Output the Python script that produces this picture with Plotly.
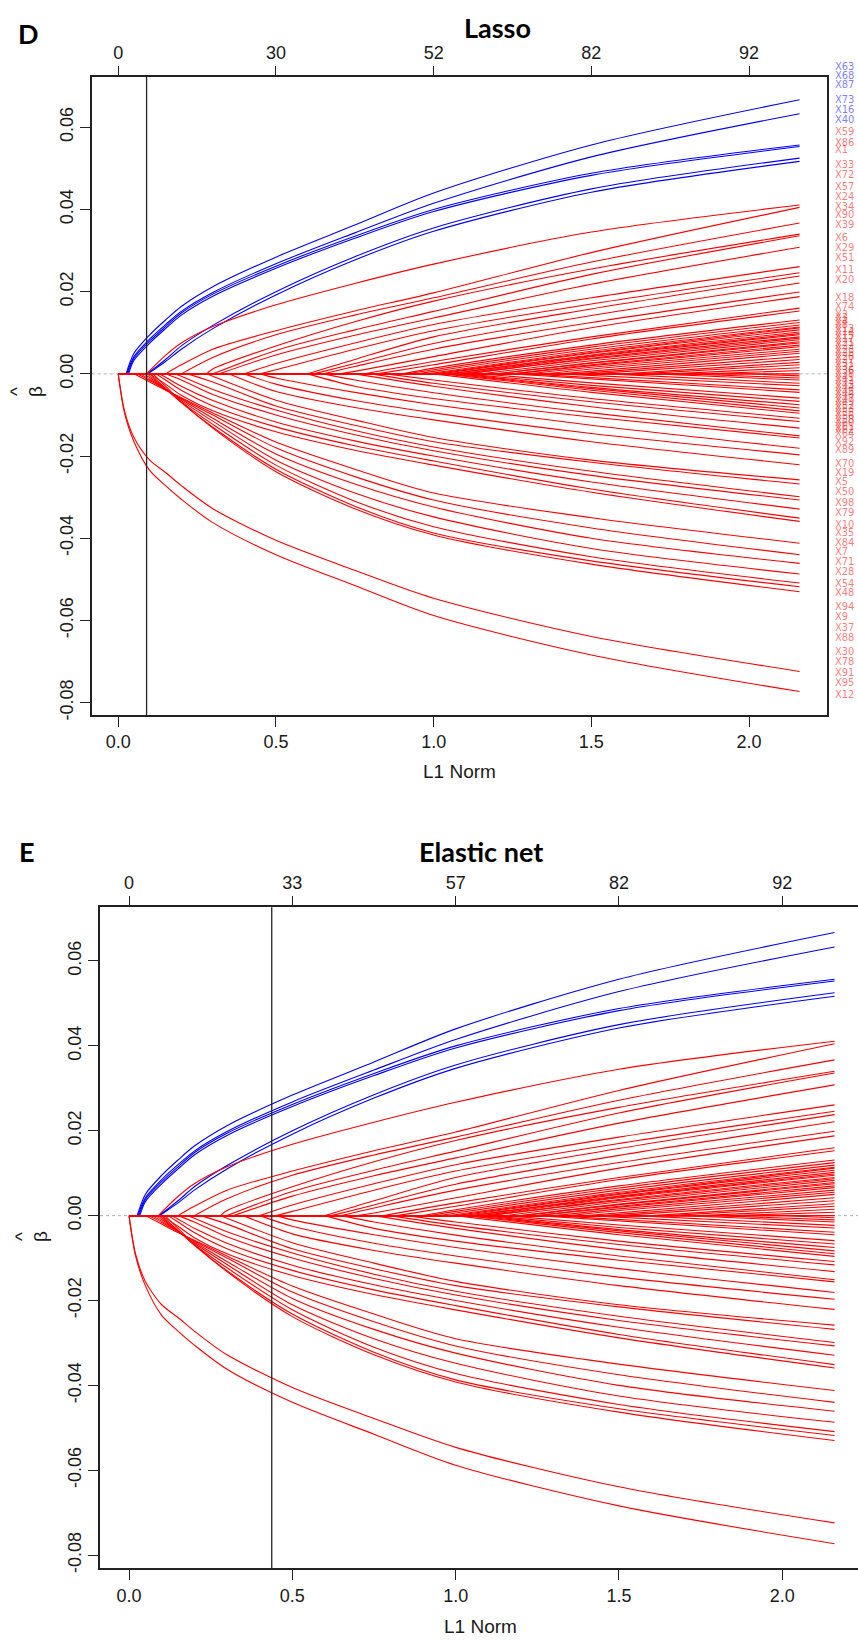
import plotly.graph_objects as go

# ---------------- data ----------------
KNOTS = [0.02, 0.05, 0.10, 0.15, 0.20, 0.30, 0.50, 0.75, 1.00, 1.50, 2.16]

VAR_NAMES = [
    "X63", "X68", "X87", "X73", "X16", "X40",
    "X59", "X86", "X1", "X33", "X72", "X57", "X24", "X34", "X90", "X39", "X6", "X29",
    "X51", "X11", "X20", "X18", "X74",
    "X2", "X3", "X4", "X8", "X13", "X14", "X15", "X17", "X21", "X22", "X23", "X25",
    "X26", "X27", "X31", "X32", "X36", "X38", "X41", "X42", "X43", "X44",
    "X45", "X46", "X47", "X49", "X52", "X53", "X55", "X56", "X58", "X60", "X61", "X62", "X64",
    "X92", "X89", "X70", "X19", "X5", "X50", "X98", "X79", "X10",
    "X35", "X84", "X7", "X71", "X28", "X54", "X48",
    "X94", "X9", "X37", "X88", "X30", "X78", "X91", "X95", "X12",
]

VAR_GROUP = ["blue"] * 6 + ["red"] * 77

ENTRY_L1 = [
    0.025, 0.027, 0.030, 0.033, 0.090, 0.095,
    0.09, 0.15, 0.20, 0.28, 0.30, 0.32, 0.40, 0.45, 0.60, 0.62, 0.65, 0.70,
    0.78, 0.82, 0.90, 0.92, 0.95,
    0.98, 1.00, 1.02, 1.05, 1.05, 1.08, 1.10, 1.10, 1.15, 1.20, 1.20, 1.25,
    1.25, 1.30, 1.35, 1.40, 1.45, 1.50, 1.60, 1.65, 1.75, 1.85,
    1.95, 2.00, 1.80, 1.70, 1.55, 1.40, 1.30, 1.25, 1.15, 1.10, 1.08, 1.05, 1.03,
    1.00, 0.85, 0.80, 0.75, 0.65, 0.60, 0.45, 0.40, 0.35,
    0.28, 0.22, 0.18, 0.15, 0.13, 0.12, 0.10,
    0.05, 0.06, 0.07, 0.08, 0.09, 0.10, 0.11, 0.00, 0.00,
]

# coefficient values at the last len(row) entries of KNOTS
PATH_VALUES = [
    [.0050, .0095, .0131, .0164, .0212, .0284, .0362, .0440, .0557, .0667],
    [.0042, .0085, .0120, .0152, .0198, .0268, .0343, .0415, .0528, .0633],
    [.0038, .0080, .0115, .0148, .0194, .0262, .0335, .0400, .0488, .0557],
    [.0033, .0075, .0110, .0143, .0189, .0257, .0330, .0395, .0483, .0553],
    [.0005, .0035, .0068, .0118, .0200, .0285, .0355, .0450, .0525],
    [.0003, .0030, .0060, .0110, .0192, .0277, .0347, .0442, .0517],
    [.0008, .0045, .0075, .0115, .0168, .0220, .0267, .0345, .0411],
    [.0022, .0060, .0105, .0153, .0197, .0295, .0405],
    [.0040, .0095, .0143, .0185, .0272, .0367],
    [.0012, .0068, .0127, .0177, .0255, .0340],
    [.0057, .0107, .0152, .0242, .0336],
    [.0046, .0094, .0136, .0218, .0308],
    [.0025, .0075, .0120, .0185, .0261],
    [.0010, .0060, .0105, .0170, .0246],
    [.0035, .0090, .0158, .0238],
    [.0025, .0074, .0142, .0221],
    [.0018, .0060, .0125, .0199],
    [.0006, .0042, .0112, .0188],
    [.0030, .0090, .0160],
    [.0022, .0085, .0153],
    [.0014, .0070, .0131],
    [.0010, .0065, .0125],
    [.0006, .0060, .0119],
    [.0055, .0114], [.0052, .0112], [.0050, .0107], [.0046, .0102], [.0044, .0098],
    [.0042, .0095], [.0038, .0090], [.0036, .0087], [.0032, .0083], [.0027, .0078],
    [.0026, .0075], [.0022, .0070], [.0020, .0066], [.0016, .0060], [.0012, .0055],
    [.0050], [.0042], [.0035], [.0028], [.0022], [.0015], [.0008],
    [.0000], [-.0005], [-.0010], [-.0015], [-.0023], [-.0029], [-.0039], [-.0045],
    [-.0022, -.0059], [-.0028, -.0067], [-.0033, -.0075], [-.0036, -.0083], [-.0040, -.0090],
    [-.0045, -.0096],
    [-.0015, -.0060, -.0108],
    [-.0023, -.0068, -.0116],
    [-.0030, -.0080, -.0132],
    [-.0015, -.0046, -.0095, -.0151],
    [-.0030, -.0060, -.0105, -.0156],
    [-.0010, -.0045, -.0075, -.0125, -.0181],
    [-.0025, -.0065, -.0095, -.0145, -.0197],
    [-.0043, -.0082, -.0112, -.0165, -.0221],
    [-.0006, -.0064, -.0112, -.0155, -.0210, -.0258],
    [-.0020, -.0078, -.0125, -.0165, -.0215, -.0268],
    [-.0006, -.0038, -.0088, -.0138, -.0178, -.0237, -.0299],
    [-.0015, -.0050, -.0100, -.0148, -.0187, -.0247, -.0307],
    [-.0008, -.0030, -.0065, -.0117, -.0163, -.0200, -.0263, -.0329],
    [-.0015, -.0040, -.0078, -.0129, -.0175, -.0212, -.0280, -.0351],
    [-.0025, -.0052, -.0090, -.0141, -.0186, -.0222, -.0288, -.0359],
    [-.0020, -.0040, -.0058, -.0095, -.0166, -.0232, -.0290, -.0350, -.0412],
    [-.0016, -.0038, -.0060, -.0100, -.0180, -.0250, -.0307, -.0375, -.0440],
    [-.0013, -.0037, -.0062, -.0108, -.0195, -.0268, -.0324, -.0400, -.0461],
    [-.0009, -.0037, -.0065, -.0115, -.0210, -.0290, -.0348, -.0425, -.0487],
    [-.0005, -.0036, -.0068, -.0123, -.0222, -.0310, -.0372, -.0445, -.0509],
    [-.0035, -.0070, -.0130, -.0232, -.0322, -.0387, -.0455, -.0518],
    [-.0030, -.0068, -.0132, -.0238, -.0328, -.0392, -.0463, -.0530],
    [-.0090, -.0155, -.0210, -.0240, -.0272, -.0328, -.0405, -.0478, -.0546, -.0639, -.0724],
    [-.0095, -.0165, -.0235, -.0272, -.0305, -.0362, -.0440, -.0515, -.0588, -.0684, -.0773],
]

# right-hand variable labels of the Lasso panel (beta units)
LABEL_Y = [
    0.0749, 0.0725, 0.0703, 0.0667, 0.0642, 0.0618,
    0.0589, 0.0564, 0.0545, 0.0509, 0.0484, 0.0455, 0.0431, 0.0406, 0.0387, 0.0363, 0.0331, 0.0307,
    0.0282, 0.0253, 0.0229, 0.0187, 0.0163,
    0.0144, 0.0136, 0.0127, 0.0119, 0.0110, 0.0102, 0.0093, 0.0085, 0.0076, 0.0068, 0.0059, 0.0051,
    0.0042, 0.0034, 0.0025, 0.0017, 0.0008, 0.0000, -0.0008, -0.0017, -0.0025, -0.0034,
    -0.0042, -0.0051, -0.0059, -0.0068, -0.0076, -0.0085, -0.0093, -0.0102, -0.0110, -0.0119,
    -0.0127, -0.0136, -0.0144,
    -0.0165, -0.0185, -0.0217, -0.0241, -0.0263, -0.0287, -0.0314, -0.0338, -0.0367,
    -0.0387, -0.0411, -0.0433, -0.0457, -0.0482, -0.0509, -0.0533,
    -0.0567, -0.0591, -0.0618, -0.0642, -0.0676, -0.0701, -0.0727, -0.0752, -0.0781,
]

BOTTOM_TICKS = [0.0, 0.5, 1.0, 1.5, 2.0]
BOTTOM_TICK_TEXT = ["0.0", "0.5", "1.0", "1.5", "2.0"]
TOP_TICK_TEXT_LASSO = ["0", "30", "52", "82", "92"]
TOP_TICK_TEXT_ENET = ["0", "33", "57", "82", "92"]
Y_TICKS = [-0.08, -0.06, -0.04, -0.02, 0.00, 0.02, 0.04, 0.06]
Y_TICK_TEXT = ["-0.08", "-0.06", "-0.04", "-0.02", "0.00", "0.02", "0.04", "0.06"]
LAMBDA_L1_LASSO = 0.09
LAMBDA_L1_ENET = 0.437

# ---------------- layout geometry ----------------
W, H = 858, 1641
COLORS = {"blue": "#0000FF", "red": "#FF0000"}
LABEL_COLORS = {"blue": "rgba(40,40,255,0.62)", "red": "rgba(255,30,30,0.62)"}
TICK_FONT = dict(family="Liberation Sans, Arial, sans-serif", size=18, color="#1a1a1a")


def px(x):
    return x / W


def py(y):
    return 1 - y / H


fig = go.Figure()

panels = [
    dict(xa="x", ya="y", xtop="x2"),
    dict(xa="x3", ya="y2", xtop="x4"),
]

for p in panels:
    for name, grp, e, vals in zip(VAR_NAMES, VAR_GROUP, ENTRY_L1, PATH_VALUES):
        col = COLORS[grp]
        if e > 0:
            fig.add_trace(go.Scatter(
                x=[0.0, e], y=[0.0, 0.0], mode="lines", xaxis=p["xa"], yaxis=p["ya"],
                line=dict(color=col, width=1.1), hoverinfo="skip", showlegend=False))
        xs = [e] + KNOTS[len(KNOTS) - len(vals):]
        ys = [0.0] + vals
        fig.add_trace(go.Scatter(
            x=xs, y=ys, mode="lines", xaxis=p["xa"], yaxis=p["ya"],
            line=dict(color=col, width=1.1, shape="spline", smoothing=0.8),
            hoverinfo="skip", showlegend=False, name=name))
    # invisible trace to activate the top axis
    fig.add_trace(go.Scatter(x=BOTTOM_TICKS, y=[0] * len(BOTTOM_TICKS), mode="markers",
                             marker=dict(opacity=0), xaxis=p["xtop"], yaxis=p["ya"],
                             hoverinfo="skip", showlegend=False))

# panel geometry (pixels)
D_L, D_R, D_T, D_B = 91.7, 826.7, 76.7, 715.0
E_L, E_R, E_T, E_B = 100.0, 858.0, 907.3, 1568.3
D_XR = [-0.084, 2.246]
D_YR = [-0.0830, 0.0723]
E_XR = [-0.0888, 2.2318]
E_YR = [-0.0831, 0.07265]

common_x = dict(tickvals=BOTTOM_TICKS, ticks="outside", ticklen=10, tickwidth=1.2,
                tickcolor="#222", showgrid=False, zeroline=False, tickfont=TICK_FONT,
                showline=True, linecolor="#222", linewidth=1.6)
common_y = dict(tickvals=Y_TICKS, ticktext=Y_TICK_TEXT, ticks="outside", ticklen=10,
                tickwidth=1.2, tickcolor="#222", showgrid=False, zeroline=False,
                tickfont=TICK_FONT, tickangle=-90, showline=True, linecolor="#222",
                linewidth=1.6)
top_x = dict(tickvals=BOTTOM_TICKS, ticks="outside", ticklen=10, tickwidth=1.2,
             tickcolor="#222", showgrid=False, zeroline=False, tickfont=TICK_FONT,
             showline=False, side="top")

fig.update_layout(
    width=W, height=H, margin=dict(l=0, r=0, t=0, b=0),
    paper_bgcolor="white", plot_bgcolor="white", template="none",
    xaxis=dict(domain=[px(D_L), px(D_R)], range=D_XR, anchor="y", mirror=True,
               ticktext=BOTTOM_TICK_TEXT, **common_x),
    xaxis2=dict(domain=[px(D_L), px(D_R)], range=D_XR, anchor="y", overlaying="x",
                ticktext=TOP_TICK_TEXT_LASSO, **top_x),
    yaxis=dict(domain=[py(D_B), py(D_T)], range=D_YR, anchor="x", mirror=True, **common_y),
    xaxis3=dict(domain=[px(E_L), px(E_R)], range=E_XR, anchor="y2", mirror=True,
                ticktext=BOTTOM_TICK_TEXT, **common_x),
    xaxis4=dict(domain=[px(E_L), px(E_R)], range=E_XR, anchor="y2", overlaying="x3",
                ticktext=TOP_TICK_TEXT_ENET, **top_x),
    yaxis2=dict(domain=[py(E_B), py(E_T)], range=E_YR, anchor="x3", mirror=False, **common_y),
)

shapes = []
for xa, ya, lam in [("x", "y", LAMBDA_L1_LASSO), ("x3", "y2", LAMBDA_L1_ENET)]:
    shapes.append(dict(type="line", xref=f"{xa} domain", yref=ya, x0=0, x1=1, y0=0, y1=0,
                       line=dict(color="#b0b0b0", width=1, dash="dot"), layer="below"))
    shapes.append(dict(type="line", xref=xa, yref=f"{ya} domain", x0=lam, x1=lam, y0=0, y1=1,
                       line=dict(color="#222", width=1.3)))
fig.update_layout(shapes=shapes)

ann = []


def add_text(text, x, y, font, **kw):
    d = dict(text=text, x=px(x), y=py(y), xref="paper", yref="paper", showarrow=False,
             xanchor="center", yanchor="middle", font=font)
    d.update(kw)
    ann.append(d)


TITLE_FONT = dict(family="Lato, Open Sans, sans-serif", size=27, color="black")
AXT_FONT = dict(family="Liberation Sans, Arial, sans-serif", size=19, color="#1a1a1a")
add_text("<b>D</b>", 28, 33, TITLE_FONT)
add_text("<b>Lasso</b>", 497, 27, TITLE_FONT)
add_text("<b>E</b>", 27, 852, TITLE_FONT)
add_text("<b>Elastic net</b>", 481, 851, TITLE_FONT)
add_text("L1 Norm", (D_L + D_R) / 2, 771, AXT_FONT)
add_text("L1 Norm", 481, 1626, AXT_FONT)
# beta-hat y-axis titles (rotated): beta and its hat
add_text("\u03b2", 36, 392, AXT_FONT, textangle=-90)
add_text("^", 17, 392, AXT_FONT, textangle=-90)
add_text("\u03b2", 40, 1237, AXT_FONT, textangle=-90)
add_text("^", 21, 1237, AXT_FONT, textangle=-90)


def beta_to_px_d(v):
    # position of a beta value on the Lasso panel's vertical scale, in pixels
    return D_T + (D_YR[1] - v) / (D_YR[1] - D_YR[0]) * (D_B - D_T)


LBL_FONT_FAMILY = "Liberation Sans Narrow, DejaVu Sans Condensed, Arial Narrow, sans-serif"
for name, grp, ly in zip(VAR_NAMES, VAR_GROUP, LABEL_Y):
    ann.append(dict(text=name, x=px(833), y=py(beta_to_px_d(ly)), xref="paper", yref="paper",
                    xanchor="left", yanchor="middle", showarrow=False,
                    font=dict(family=LBL_FONT_FAMILY, size=11, color=LABEL_COLORS[grp])))

fig.update_layout(annotations=ann)

fig.write_html(
    "out.html",
    config={"displayModeBar": False},
    post_script="document.body.style.margin='0';document.body.style.overflow='hidden';",
)
